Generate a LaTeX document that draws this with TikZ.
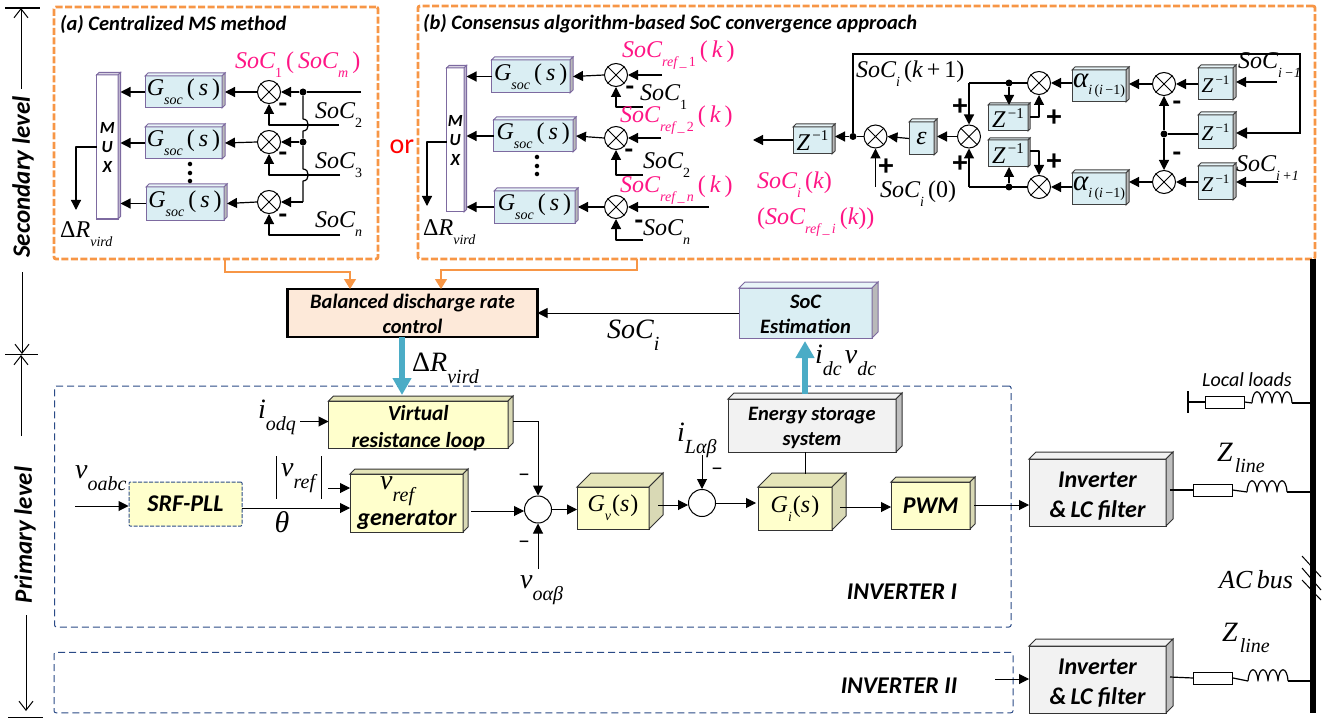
\documentclass[tikz,border=0pt]{standalone}
\usepackage{fontspec}
\setmainfont{Carlito}
\newfontfamily\mf{Liberation Serif}
\usetikzlibrary{arrows.meta}
\definecolor{orng}{HTML}{F79646}
\definecolor{pinkc}{HTML}{FF1585}
\definecolor{teal}{HTML}{4BACC6}
\definecolor{dblue}{HTML}{2A4A86}
\definecolor{bfill}{HTML}{DAEEF3}
\definecolor{yfill}{HTML}{FFFFCC}
\definecolor{gfill}{HTML}{F2F2F2}
\definecolor{pdraw}{HTML}{7D6AA0}
\definecolor{salmon}{HTML}{FDE9D9}
\newcommand\ma[1]{{\mf\itshape #1}}
\newcommand\su[1]{\raisebox{-0.38em}{\fontsize{14}{14}\selectfont\mf\itshape #1}}
\newcommand\sr[1]{\raisebox{-0.38em}{\fontsize{14}{14}\selectfont\mf #1}}
\newcommand\slo[1]{\raisebox{-0.42em}{\fontsize{20}{20}\selectfont\mf\itshape #1}}
\newcommand\soc{\ma{SoC}}
\newcommand\mfs{\fontsize{24}{27}\selectfont\mf}
\newcommand\bigmf{\fontsize{28}{30}\selectfont\mf}
\newcommand\gsoc{\fontsize{24}{26}\selectfont\mf\ma{G}\su{soc}\,(\,\ma{s}\,)}
\newcommand\zin{\fontsize{24}{26}\selectfont\mf\ma{Z}\raisebox{0.4em}{\fontsize{15}{15}\selectfont\,\textminus1}}
\newcommand\zis{\fontsize{21}{24}\selectfont\mf\ma{Z}\raisebox{0.4em}{\fontsize{13}{13}\selectfont\,\textminus1}}
\newcommand\aii{\fontsize{29}{30}\selectfont\mf\ma{α}\raisebox{-0.25em}{\fontsize{14}{14}\selectfont\ma{i}\,(\ma{i}\,\textminus1)}}
\newcommand\btx{\fontsize{20.5}{25}\selectfont\bfseries\itshape}
\newcommand\cf{}
\newcommand\cs{0pt}
\newcommand\cube[8]{%
  \node[#1face,minimum width={#5-#3},minimum height={#6-#4},label={[cubetext,font=\cf,yshift=\cs]center:{#8}}] (#2) at ({(#3+#5)/2},{(#4+#6)/2}) {};
  \draw[#1top] (#2.north west) -- ++(#7,-#7) -- ++({#5-#3},0) -- (#2.north east) -- cycle;
  \draw[#1side] (#2.north east) -- ++(#7,-#7) -- ++(0,{#6-#4}) -- (#2.south east) -- cycle;
}
\newcommand\summ[3]{%
  \node[sumc] (#1) at (#2,#3) {};
  \draw[thick] (#1.45) -- (#1.225) (#1.135) -- (#1.315);
}
\newcommand\indc[3]{%
  \coordinate (#1a) at (#2,#3);
  \coordinate (#1b) at ({#2+40},#3);
  \draw[wire] (#1a) \foreach \k in {0,10,20,30} { .. controls ({#2+\k+1},{#3-15}) and ({#2+\k+9},{#3-15}) .. ({#2+\k+10},#3) };
}
\tikzset{
  wire/.style={line width=1.2pt,line join=round},
  ar/.style={wire,-{Triangle[length=10pt,width=10pt]}},
  arn/.style={line width=1pt,-{Triangle[length=10pt,width=10pt]}},
  arl/.style={line width=1.2pt,-{Triangle[length=11pt,width=11pt]}},
  oarrow/.style={draw=orng,line width=1.4pt,-{Triangle[length=10pt,width=12pt]}},
  tarrow/.style={draw=teal,fill=teal,line width=6pt,-{Triangle[length=17pt,width=18pt]}},
  oaxis/.style={line width=1pt,-{Straight Barb[length=9pt,width=14pt,line width=1pt]}},
  panel/.style={draw=orng,line width=2.8pt,dash pattern=on 7pt off 2.5pt,rounded corners=2pt},
  inv/.style={draw=dblue,line width=1pt,dash pattern=on 7pt off 4pt,rounded corners=2pt},
  sumc/.style={circle,draw,fill=white,line width=1pt,minimum size=23pt,inner sep=0pt},
  bigc/.style={circle,draw,fill=white,line width=1pt,minimum size=27pt,inner sep=0pt},
  dot/.style={circle,fill=black,minimum size=7pt,inner sep=0pt},
  res/.style={rectangle,draw,fill=white,line width=1pt,minimum width=39pt,minimum height=12pt,inner sep=0pt},
  cubetext/.style={align=center,inner sep=0pt,text=black},
  mt/.style={inner sep=0pt,anchor=west,font=\mfs},
  mtb/.style={inner sep=0pt,anchor=west,font=\bigmf},
  pk/.style={mt,text=pinkc},
  bt/.style={inner sep=0pt,font=\btx,align=center},
  axl/.style={inner sep=0pt,font=\fontsize{25}{25}\selectfont\bfseries\itshape,rotate=90},
  bbig/.style={inner sep=0pt,font=\fontsize{24}{28}\selectfont\bfseries\itshape},
  vdots/.style={inner sep=0pt,font=\fontsize{30}{30}\selectfont\bfseries,rotate=90},
  mn/.style={inner sep=0pt,font=\fontsize{28}{28}\selectfont\bfseries},
  pl/.style={inner sep=0pt,font=\fontsize{30}{30}\selectfont\bfseries},
  mnt/.style={inner sep=0pt,font=\fontsize{24}{24}\selectfont},
  bface/.style={rectangle,draw=pdraw,fill=bfill,line width=1pt,inner sep=0pt,outer sep=0pt},
  btop/.style={draw=pdraw,fill=bfill!60,line width=1pt},
  bside/.style={draw=pdraw,fill=gray!55,line width=1pt},
  mface/.style={rectangle,draw=pdraw,fill=white,line width=1pt,inner sep=0pt,outer sep=0pt},
  mtop/.style={draw=pdraw,fill=pdraw!30,line width=1pt},
  mside/.style={draw=pdraw,fill=pdraw!50,line width=1pt},
  zface/.style={rectangle,draw=black!75,fill=bfill,line width=1pt,inner sep=0pt,outer sep=0pt},
  ztop/.style={draw=black!75,fill=bfill!60,line width=1pt},
  zside/.style={draw=black!75,fill=gray!55,line width=1pt},
  yface/.style={rectangle,draw=black!80,fill=yfill,line width=1pt,inner sep=0pt,outer sep=0pt},
  ytop/.style={draw=black!80,fill=yfill!90!black,line width=1pt},
  yside/.style={draw=black!80,fill=yfill!70!gray,line width=1pt},
  gface/.style={rectangle,draw=black!80,fill=gfill,line width=1pt,inner sep=0pt,outer sep=0pt},
  gtop/.style={draw=black!80,fill=gfill,line width=1pt},
  gside/.style={draw=black!80,fill=gray!50,line width=1pt},
}
\begin{document}
\begin{tikzpicture}[x=1pt,y=-1pt]
\useasboundingbox (0,0) rectangle (1330,722);
% --- axis
\coordinate (ax1a) at (5,8); \coordinate (ax1b) at (40,8);
\coordinate (ax2a) at (5,354.5); \coordinate (ax2b) at (38,354.5);
\coordinate (ax3a) at (8,717.5); \coordinate (ax3b) at (43,717.5);
\draw[line width=1.2pt] (ax1a) -- (ax1b) (ax2a) -- (ax2b) (ax3a) -- (ax3b);
\coordinate (u1) at (21,89); \coordinate (u1e) at (21,8);
\coordinate (u2) at (22,272); \coordinate (u2e) at (22,354);
\coordinate (u3) at (21,436); \coordinate (u3e) at (21,355);
\coordinate (u4) at (26,615); \coordinate (u4e) at (26,711);
\draw[oaxis] (u1) -- (u1e);
\draw[oaxis] (u2) -- (u2e);
\draw[oaxis] (u3) -- (u3e);
\draw[oaxis] (u4) -- (u4e);
\node[axl] (seclev) at (23,177) {Secondary level};
\node[axl] (prilev) at (25,535) {Primary level};
% --- panels
\node[panel,minimum width=324pt,minimum height=252pt,inner sep=0pt,outer sep=0pt] (pa) at (216,133) {};
\node[panel,minimum width=897pt,minimum height=253pt,inner sep=0pt,outer sep=0pt] (pb) at (866.5,132.5) {};
\node[bt,anchor=west] (ta) at (60,24) {(a) Centralized MS method};
\node[bt,anchor=west] (tb) at (423,24) {(b) Consensus algorithm-based SoC convergence approach};
\node[inner sep=0pt,text=red,font=\fontsize{28}{28}\selectfont] (orw) at (402,147) {or};
% --- panel a
\renewcommand\cf{\fontsize{17}{19.5}\selectfont\bfseries\itshape}
\cube{m}{muxa}{96.5}{75}{118}{219}{2.5}{M\\U\\X}
\renewcommand\cf{}
\cube{b}{ga1}{145}{76}{222}{108}{3}{\gsoc}
\cube{b}{ga2}{145}{127}{222}{159}{3}{\gsoc}
\cube{b}{ga3}{146}{187}{224}{220}{3}{\gsoc}
\summ{sa1}{269}{92}\summ{sa2}{269}{142}\summ{sa3}{269}{202}
\node[dot] (da1) at (303,92) {};
\node[dot] (da2) at (303,142) {};
\coordinate (ia1) at (361,92);
\coordinate (ia2) at (339,125); \coordinate (ia3) at (340,175); \coordinate (ia4) at (340,235);
\coordinate (ja1) at (303,119); \coordinate (ja2) at (303,131);
\coordinate (ja3) at (303,169); \coordinate (ja4) at (303,181);
\coordinate (ka3) at (303,202);
\draw[wire] (ia1) -- (da1);
\draw[ar] (da1) -- (sa1.east);
\draw[ar] (da2) -- (sa2.east);
\draw[wire] (da1) -- (ja1) .. controls +(7,0) and +(7,0) .. (ja2) -- (da2) -- (ja3) .. controls +(7,0) and +(7,0) .. (ja4) -- (ka3);
\draw[ar] (ka3) -- (sa3.east);
\draw[ar] (ia2) -| (sa1.south);
\draw[ar] (ia3) -| (sa2.south);
\draw[ar] (ia4) -| (sa3.south);
\draw[ar] (sa1.west) -- ([xshift=3pt]ga1.east);
\draw[ar] (sa2.west) -- ([xshift=3pt]ga2.east);
\draw[ar] (sa3.west) -- ([xshift=3pt]ga3.east);
\draw[ar] (ga1.west) -- ([xshift=2.5pt]muxa.east |- ga1.west);
\draw[ar] (ga2.west) -- ([xshift=2.5pt]muxa.east |- ga2.west);
\draw[ar] (ga3.west) -- ([xshift=2.5pt]muxa.east |- ga3.west);
\coordinate (oa1) at (96.5,147); \coordinate (oa2) at (76,210);
\draw[ar] (oa1) -| (oa2);
\node[mt] (dra) at (60,234) {Δ\ma{R}\su{vird}};
\node[mn] (ma1) at (283,108) {-};
\node[mn] (ma2) at (283,157) {-};
\node[mn] (ma3) at (283,219) {-};
\node[pk] (la0) at (235,65) {\soc\sr{1}\,(\,\soc\su{m}\,)};
\node[mt] (la2) at (315,115) {\soc\sr{2}};
\node[mt] (la3) at (315,165) {\soc\sr{3}};
\node[mt] (la4) at (315,224) {\soc\su{n}};
\node[vdots] (dots1) at (190,173) {...};
% --- panel b left
\renewcommand\cf{\fontsize{17}{19.5}\selectfont\bfseries\itshape}
\cube{m}{muxb}{446.5}{68}{464}{212}{2.5}{M\\U\\X}
\renewcommand\cf{}
\cube{b}{gb1}{491.5}{60}{570}{93}{3}{\gsoc}
\cube{b}{gb2}{493.5}{120}{573}{152}{3}{\gsoc}
\cube{b}{gb3}{494}{191}{575}{223}{3}{\gsoc}
\summ{sb1}{616}{75}\summ{sb2}{616}{138}\summ{sb3}{616}{207}
\coordinate (ib1) at (662,75); \coordinate (ib2) at (661,138); \coordinate (ib3) at (709,207);
\coordinate (jb1) at (643,107); \coordinate (jb2) at (643,175); \coordinate (jb3) at (643,240);
\draw[ar] (ib1) -- (sb1.east);
\draw[ar] (ib2) -- (sb2.east);
\draw[ar] (ib3) -- (sb3.east);
\draw[ar] (jb1) -| (sb1.south);
\draw[ar] (jb2) -| (sb2.south);
\draw[ar] (jb3) -| (sb3.south);
\draw[ar] (sb1.west) -- ([xshift=3pt]gb1.east);
\draw[ar] (sb2.west) -- ([xshift=3pt]gb2.east);
\draw[ar] (sb3.west) -- ([xshift=3pt]gb3.east);
\draw[ar] (gb1.west) -- ([xshift=2.5pt]muxb.east |- gb1.west);
\draw[ar] (gb2.west) -- ([xshift=2.5pt]muxb.east |- gb2.west);
\draw[ar] (gb3.west) -- ([xshift=2.5pt]muxb.east |- gb3.west);
\coordinate (ob1) at (446.5,142); \coordinate (ob2) at (427,206);
\draw[ar] (ob1) -| (ob2);
\node[mt] (drb) at (423,232) {Δ\ma{R}\su{vird}};
\node[mn] (mb1) at (630,91) {-};
\node[mn] (mb2) at (629,154) {-};
\node[mn] (mb3) at (639,225) {-};
\node[pk] (lb1) at (622,55) {\soc\su{ref\,\_\,}\sr{1}\,(\,\ma{k}\,)};
\node[pk] (lb2) at (620,120) {\soc\su{ref\,\_\,}\sr{2}\,(\,\ma{k}\,)};
\node[pk] (lb3) at (620,190) {\soc\su{ref\,\_\,n}\,(\,\ma{k}\,)};
\node[mt] (lb4) at (640,97) {\soc\sr{1}};
\node[mt] (lb5) at (643,165) {\soc\sr{2}};
\node[mt] (lb6) at (643,232) {\soc\su{n}};
\node[vdots] (dots2) at (537,166) {...};
% --- panel b right
\cube{z}{z1}{793}{127}{832}{154}{3}{\zin}
\cube{z}{eps}{909}{122}{934}{155}{3}{\fontsize{26}{26}\selectfont\mf\ma{ε}}
\cube{z}{z2}{988}{105}{1028}{131}{2}{\zin}
\cube{z}{z3}{988}{140}{1028}{167}{2}{\zin}
\cube{z}{a1}{1072}{70}{1126}{102}{3}{\aii}
\cube{z}{a2}{1072}{173}{1126}{205}{3}{\aii}
\cube{z}{z4}{1198}{68}{1233}{100}{3}{\zis}
\cube{z}{z5}{1198}{115}{1233}{149}{3}{\zis}
\cube{z}{z6}{1198}{166}{1233}{200}{3}{\zis}
\summ{c1}{875.5}{136.5}\summ{c2}{969}{136.5}\summ{c3}{1039}{83}\summ{c4}{1039}{187}\summ{c5}{1164}{84}\summ{c6}{1164}{182}
\node[dot] (d1) at (853,136.5) {};
\node[dot] (d2) at (1009,83) {};
\node[dot] (d3) at (1009,187) {};
\node[dot] (d4) at (1164,134) {};
\coordinate (e1) at (753,140);
\draw[ar] (z1.west |- e1) -- (e1);
\draw[ar] (d1) -- ([xshift=3pt]z1.east |- d1);
\draw[wire] (c1.west) -- (d1);
\draw[ar] (eps.west) -- (c1.east);
\draw[ar] (c2.west) -- ([xshift=3pt]eps.east |- c2.west);
\coordinate (s0) at (875.5,187);
\draw[ar] (s0) -- (c1.south);
\coordinate (f1) at (1300,54);
\coordinate (f2) at (853,54);
\draw[arl] (d1) -- (f2) -- (f1) |- ([xshift=3pt,yshift=-1pt]z5.east);
\coordinate (g1) at (969,83);
\draw[wire] (c3.west) -- (g1);
\draw[ar] (g1) -- (c2.north);
\coordinate (g2) at (969,187);
\draw[wire] (c4.west) -- (g2);
\draw[ar] (g2) -- (c2.south);
\draw[ar] (d2) -- (z2.north -| d2);
\draw[ar] (d3) -- (z3.south -| d3);
\coordinate (h1) at (1030,117); \coordinate (h2) at (1030,151);
\draw[ar] (h1) -| (c3.south);
\draw[ar] (h2) -| (c4.north);
\draw[ar] (a1.west |- c3.east) -- (c3.east);
\draw[ar] (a2.west |- c4.east) -- (c4.east);
\draw[ar] (c5.west) -- ([xshift=3pt]a1.east |- c5.west);
\draw[ar] (c6.west) -- ([xshift=3pt]a2.east |- c6.west);
\draw[ar] (z4.west |- c5.east) -- (c5.east);
\draw[ar] (z6.west |- c6.east) -- (c6.east);
\draw[wire] (z5.west |- d4) -- (d4);
\draw[ar] (d4) -- (c5.south);
\draw[ar] (d4) -- (c6.north);
\coordinate (i1) at (1277,82); \coordinate (i2) at (1278,182);
\draw[ar] (i1) -- ([xshift=3pt]z4.east |- i1);
\draw[ar] (i2) -- ([xshift=3pt]z6.east |- i2);
\node[mn] (mc1) at (1177,106) {-};
\node[mn] (mc2) at (1177,157) {-};
\node[pl] (p1) at (960,107) {+};
\node[pl] (p2) at (1054,118) {+};
\node[pl] (p3) at (1054,162) {+};
\node[pl] (p4) at (960,164) {+};
\node[pl] (p5) at (886,167) {+};
\node[mt] (lc1) at (1238,65) {\soc\su{i\,\textminus1}};
\node[mt] (lc2) at (1236,168) {\soc\su{i\,+1}};
\node[mt] (lc3) at (856,74) {\soc\su{i}\,(\ma{k}\,+\,1)};
\node[mt] (lc4) at (880,194) {\soc\su{i}\,(0)};
\node[pk] (lc5) at (757,185) {\soc\su{i}\,(\ma{k})};
\node[pk] (lc6) at (757,222) {(\soc\su{ref\,\_\,i}\,(\ma{k}))};
% --- orange
\coordinate (oa) at (225,259); \coordinate (oa2x) at (225,272); \coordinate (oa3) at (350,272);
\coordinate (ob) at (637,259); \coordinate (ob2x) at (637,270); \coordinate (ob3) at (441,270);
% --- balanced
\node[rectangle,draw,line width=2.4pt,fill=salmon,minimum width=250pt,minimum height=48pt,inner sep=0pt,outer sep=0pt,label={[cubetext,font=\btx,yshift=-1pt]center:{Balanced discharge rate\\control}}] (bal) at (412.5,313) {};
\draw[oarrow] (oa) -- (oa2x) -- (oa3) -- (oa3 |- bal.north);
\draw[oarrow] (ob) -- (ob2x) -- (ob3) -- (ob3 |- bal.north);
\renewcommand\cf{\btx}
\renewcommand\cs{-1pt}
\cube{b}{soe}{739}{288}{872}{338}{6}{SoC\\Estimation}
\renewcommand\cf{}
\renewcommand\cs{0pt}
\draw[arn] (soe.west) -- (bal.east);
\node[mtb] (lsoc) at (607,335) {\soc\slo{i}};
% --- inverter I box
\node[inv,minimum width=956.5pt,minimum height=241pt,inner sep=0pt,outer sep=0pt] (inv1) at (532.8,506.5) {};
\node[inv,minimum width=959pt,minimum height=60.5pt,inner sep=0pt,outer sep=0pt] (inv2) at (533.5,682.5) {};
\node[bbig] (i1t) at (902,592) {INVERTER I};
\node[bbig] (i2t) at (899,686) {INVERTER II};
\coordinate (bl1) at (402,337);
\coordinate (bl2) at (402,395);
\draw[tarrow] (bal.south -| bl1) -- (bl2);
\node[mtb] (drc) at (412,368) {Δ\ma{R}\slo{vird}};
% --- primary
\renewcommand\cf{\fontsize{21.5}{27}\selectfont\bfseries\itshape}
\renewcommand\cs{-4pt}
\cube{y}{vr}{328.5}{401}{508}{448}{5}{Virtual\\resistance loop}
\renewcommand\cf{}
\renewcommand\cs{0pt}
\node[rectangle,draw=dblue,line width=1pt,dash pattern=on 4pt off 1.5pt,rounded corners=1pt,fill=yfill,minimum width=113pt,minimum height=44pt,inner sep=0pt,label={[cubetext,font=\fontsize{24}{24}\selectfont\bfseries\itshape]center:{SRF-PLL}}] (srf) at (185.5,504) {};
\cube{y}{gen}{350}{474}{463}{532}{5}{}
\node[mtb] (vrtx) at (380,491) {\ma{v}\slo{ref}};
\node[bbig] (gentx) at (407,520) {generator};
\node[bigc] (j1) at (538,509.5) {};
\node[bigc] (j2) at (702,503) {};
\cube{y}{gv}{577}{487}{649}{529}{14}{\fontsize{24}{26}\selectfont\mf\ma{G}\su{v}\hspace{1pt}(\ma{s}\hspace{1pt})}
\cube{y}{gi}{758}{487}{832}{530}{14}{\fontsize{24}{26}\selectfont\mf\ma{G}\su{i}\hspace{1pt}(\ma{s}\hspace{1pt})}
\cube{y}{pwm}{891}{482}{970}{529}{5}{\fontsize{24}{26}\selectfont\bfseries\itshape PWM}
\renewcommand\cf{\btx}
\renewcommand\cs{-2.5pt}
\cube{g}{ess}{728}{399}{896}{452}{6}{Energy storage\\system}
\renewcommand\cf{\fontsize{24}{30}\selectfont\bfseries\itshape}
\renewcommand\cs{-4pt}
\cube{g}{inva}{1029}{459}{1166}{526}{7}{Inverter\\\&\,LC filter}
\cube{g}{invb}{1029}{646}{1166}{713}{7}{Inverter\\\&\,LC filter}
\renewcommand\cf{}
\renewcommand\cs{0pt}
\coordinate (q1) at (300,421.5);
\draw[arn] (q1) -- (vr.west |- q1);
\coordinate (q2) at (513,421.5);
\draw[arn] (q2) -| (j1.north);
\coordinate (q3) at (538,569);
\draw[arn] (q3) -- (j1.south);
\coordinate (q4) at (75,506);
\draw[arn] (q4) -- (srf.west |- q4);
\coordinate (q5) at (328,488);
\draw[arn] (q5) -- (gen.west |- q5);
\coordinate (q6) at (242,508);
\draw[arn] (q6) -- (gen.west |- q6);
\coordinate (q7) at (471,511);
\draw[arn] (q7) -- (j1.west |- q7);
\draw[arn] (j1.east) -- (gv.west |- j1.east);
\coordinate (q8) at (658,505);
\draw[arn] (q8) -- (j2.west |- q8);
\coordinate (q9) at (702,455);
\draw[arn] (q9) -- (j2.north);
\draw[arn] (j2.east) -- ([xshift=-2pt]gi.west |- j2.east);
\coordinate (q10) at (840,507);
\draw[arn] (q10) -- (pwm.west |- q10);
\coordinate (q11) at (974,505);
\draw[arn] (q11) -- (inva.west |- q11);
\coordinate (q12) at (995,679);
\draw[arn] (q12) -- (invb.west |- q12);
\coordinate (q13) at (805,474);
\draw[line width=1pt] (ess.south -| q13) -- (q13);
\coordinate (bu1) at (805,394);
\coordinate (bu2) at (805,341);
\draw[tarrow] (bu1) -- (bu2);
\node[mtb] (lidc) at (815,360) {\ma{i}\slo{dc}\hspace{3pt}\ma{v}\slo{dc}};
\node[mtb] (liodq) at (258,417) {\ma{i}\slo{odq}};
\node[mtb] (lvab) at (75,478) {\ma{v}\slo{oabc}};
\node[mtb] (lvrf) at (281,478) {\ma{v}\slo{ref}};
\coordinate (br1) at (276,456); \coordinate (br2) at (276,499);
\coordinate (br3) at (321,456); \coordinate (br4) at (321,499);
\draw[line width=1pt] (br1) -- (br2) (br3) -- (br4);
\node[inner sep=0pt,font=\fontsize{30}{30}\selectfont\mf\itshape] (lth) at (282,522) {θ};
\node[mtb] (lvo) at (520,590) {\ma{v}\slo{oαβ}};
\node[mtb] (lil) at (677,440) {\ma{i}\slo{Lαβ}};
\node[mnt] (m1) at (524,478) {–};
\node[mnt] (m2) at (524,545) {–};
\node[mnt] (m3) at (717,472) {–};
% --- grid side
\coordinate (bt) at (1313,259); \coordinate (bb) at (1313,713);
\draw[line width=6pt] (bt) -- (bb);
\node[res] (r1) at (1212.5,490) {};
\indc{l1}{1247}{492}
\coordinate (n1) at (1170,490);
\draw[wire] (n1) -- (r1.west);
\draw[wire] (r1.east) -- (l1a);
\draw[wire] (l1b) -- (bt |- l1b);
\node[res] (r2) at (1213,678) {};
\indc{l2}{1248}{681}
\coordinate (n2) at (1170,677);
\draw[wire] (n2) -- (r2.west);
\draw[wire] (r2.east) -- (l2a);
\draw[wire] (l2b) -- (bt |- l2b);
\node[res] (r3) at (1224.5,402) {};
\indc{l3}{1252}{403}
\coordinate (n3) at (1188,402);
\coordinate (n3a) at (1188,391); \coordinate (n3b) at (1188,413);
\draw[line width=1.4pt] (n3a) -- (n3b);
\draw[wire] (n3) -- (r3.west);
\draw[wire] (r3.east) -- (l3a);
\draw[wire] (l3b) -- (bt |- l3b);
\node[inner sep=0pt,anchor=west,font=\fontsize{20}{22}\selectfont\itshape] (lll) at (1202,380) {Local loads};
\node[mtb] (lz1) at (1217,458) {\ma{Z}\hspace{2pt}\slo{line}};
\node[mtb] (lz2) at (1222,638) {\ma{Z}\hspace{2pt}\slo{line}};
\node[mt,font=\fontsize{26}{28}\selectfont\mf] (lac) at (1219,580) {\ma{AC}\,\ma{bus}};
\coordinate (h1a) at (1302,556); \coordinate (h1b) at (1321,577);
\coordinate (h2a) at (1302,568); \coordinate (h2b) at (1321,590);
\coordinate (h3a) at (1302,580); \coordinate (h3b) at (1321,600);
\draw[line width=1pt] (h1a) -- (h1b) (h2a) -- (h2b) (h3a) -- (h3b);
\end{tikzpicture}
\end{document}
